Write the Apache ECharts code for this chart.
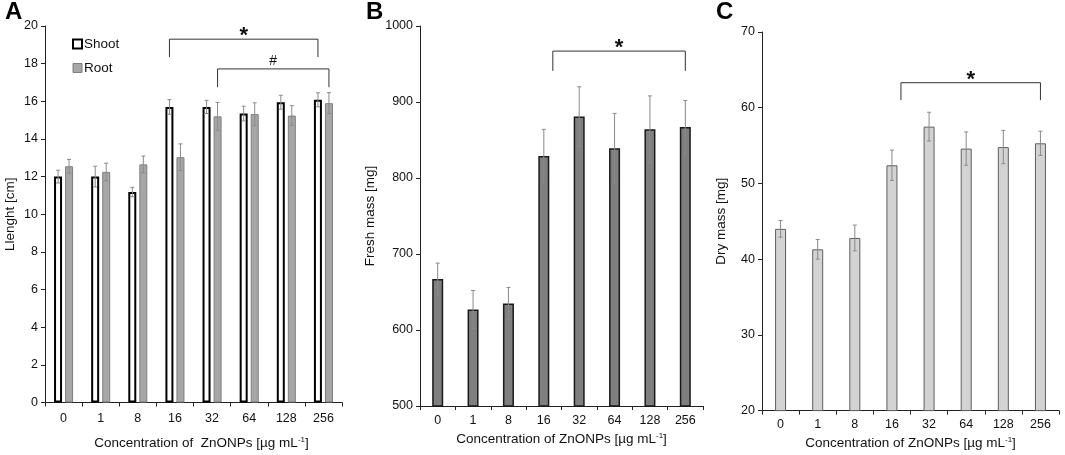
<!DOCTYPE html>
<html lang="en">
<head>
<meta charset="UTF-8" />
<title>ZnONPs</title>
<script src="https://cdn.jsdelivr.net/npm/echarts@6/dist/echarts.min.js"></script>
<style>
  body{margin:0;padding:0;background:#fff;}
  #chart{width:1065px;height:455px;}
</style>
</head>
<body>
<div id="chart"></div>
<script>
// data
var categories = ['0', '1', '8', '16', '32', '64', '128', '256'];
var shootLen = [12.0, 12.0, 11.18, 15.7, 15.7, 15.35, 15.95, 16.08];
var shootErr = [0.34, 0.55, 0.25, 0.39, 0.35, 0.39, 0.37, 0.37];
var rootLen = [12.55, 12.25, 12.65, 13.03, 15.2, 15.32, 15.24, 15.9];
var rootErr = [0.36, 0.46, 0.44, 0.71, 0.74, 0.6, 0.53, 0.56];
var freshMass = [667, 627, 635, 829, 881, 839, 864, 867];
var freshErr = [21, 25, 21, 35, 39, 46, 44, 35];
var dryMass = [44.0, 41.3, 42.8, 52.4, 57.5, 54.6, 54.8, 55.3];
var dryErr = [1.1, 1.3, 1.7, 2.0, 1.9, 2.2, 2.2, 1.6];
// brackets: [from category, to category, line value, end value]
var bracketStarA = [[3, 7, 19.3, 18.35]];
var bracketHashA = [[4, 7, 17.72, 16.75]];
var bracketsB = [[3, 7, 967, 941]];
var bracketsC = [[3, 7, 63.3, 61.0]];

var FONT = 'Liberation Sans, Arial, sans-serif';
var chart = echarts.init(document.getElementById('chart'));

function xAx(grid, margin, gap, name, shift) {
  return {
    type: 'category', gridIndex: grid, data: categories,
    name: name, nameLocation: 'middle', nameGap: gap,
    nameTextStyle: {fontFamily: FONT, fontSize: 13.5, color: '#111', padding: [0, 0, 0, shift || 0],
      rich: {sup: {fontFamily: FONT, fontSize: 8, color: '#111', verticalAlign: 'top', padding: [0, 0, 7, 0]}}},
    axisLine: {lineStyle: {color: '#222', width: 1}},
    axisTick: {show: true, length: 4, lineStyle: {color: '#222'}},
    axisLabel: {fontFamily: FONT, fontSize: 12.5, color: '#111', margin: margin}
  };
}
function yAx(grid, min, max, step, name, gap) {
  return {
    type: 'value', gridIndex: grid, min: min, max: max, interval: step,
    name: name, nameLocation: 'middle', nameGap: gap,
    nameTextStyle: {fontFamily: FONT, fontSize: 13.5, color: '#111'},
    axisLine: {show: true, lineStyle: {color: '#222', width: 1}},
    axisTick: {show: true, length: 4, lineStyle: {color: '#222'}},
    axisLabel: {fontFamily: FONT, fontSize: 12.5, color: '#111', margin: 7,
      formatter: function (v) { return String(v); }},
    splitLine: {show: false}
  };
}

function errSeries(idx, vals, errs, offset) {
  return {
    type: 'custom', xAxisIndex: idx, yAxisIndex: idx, z: 10, silent: true,
    data: vals.map(function (v, i) { return [i, v, errs[i]]; }),
    renderItem: function (params, api) {
      var hi = api.coord([api.value(0), api.value(1) + api.value(2)]);
      var lo = api.coord([api.value(0), api.value(1) - api.value(2)]);
      var x = hi[0] + offset;
      var st = {stroke: '#8a8a8a', lineWidth: 1};
      return {type: 'group', children: [
        {type: 'line', shape: {x1: x, y1: hi[1], x2: x, y2: lo[1]}, style: st},
        {type: 'line', shape: {x1: x - 2, y1: hi[1], x2: x + 2, y2: hi[1]}, style: st},
        {type: 'line', shape: {x1: x - 2, y1: lo[1], x2: x + 2, y2: lo[1]}, style: st}
      ]};
    }
  };
}

function bracketSeries(idx, list, label, off0, off1) {
  return {
    type: 'custom', xAxisIndex: idx, yAxisIndex: idx, z: 10, silent: true,
    data: list,
    renderItem: function (params, api) {
      var a = api.coord([api.value(0), api.value(2)]);
      var b = api.coord([api.value(1), api.value(2)]);
      var e = api.coord([api.value(1), api.value(3)]);
      var x0 = a[0] + off0, x1 = b[0] + off1, y = a[1], y2 = e[1];
      var st = {stroke: '#333', lineWidth: 1, fill: null};
      var star = label === '*';
      return {type: 'group', children: [
        {type: 'polyline', shape: {points: [[x0, y2], [x0, y], [x1, y], [x1, y2]]}, style: st},
        {type: 'text', x: (x0 + x1) / 2, y: star ? y + 8 : y - 1, style: {
          text: label, fontFamily: FONT, fontSize: star ? 22 : 14,
          fontWeight: star ? 'bold' : 'normal',
          fill: '#111', align: 'center', verticalAlign: 'bottom'}}
      ]};
    }
  };
}

var concName = 'Concentration of ZnONPs [µg mL{sup|-1}]';
var letterStyle = {fontFamily: FONT, fontSize: 24, fontWeight: 'bold', color: '#000'};

var option = {
  animation: false,
  title: [
    {text: 'A', left: 5, top: 0, padding: 0, textStyle: letterStyle},
    {text: 'B', left: 366, top: 0, padding: 0, textStyle: letterStyle},
    {text: 'C', left: 716, top: 0, padding: 0, textStyle: letterStyle}
  ],
  legend: {
    orient: 'vertical', left: 72, top: 37, padding: 0,
    itemWidth: 9, itemHeight: 9, itemGap: 10,
    textStyle: {fontFamily: FONT, fontSize: 13.5, color: '#111', padding: [0, 0, 0, -3]},
    data: [
      {name: 'Shoot', icon: 'rect', itemStyle: {color: '#fff', borderColor: '#000', borderWidth: 2}},
      {name: 'Root', icon: 'rect', itemStyle: {color: '#a6a6a6', borderColor: '#7f7f7f', borderWidth: 1}}
    ]
  },
  grid: [
    {left: 45, top: 26, width: 297, height: 377},
    {left: 420, top: 26, width: 283, height: 380},
    {left: 762, top: 32, width: 297, height: 380}
  ],
  xAxis: [
    xAx(0, 10, 33, 'Concentration of  ZnONPs [µg mL{sup|-1}]', 16),
    xAx(1, 8, 24, concName),
    xAx(2, 7, 23, concName)
  ],
  yAxis: [
    yAx(0, 0, 20, 2, 'Llenght [cm]', 28),
    yAx(1, 500, 1000, 100, 'Fresh mass [mg]', 43),
    yAx(2, 20, 70, 10, 'Dry mass [mg]', 34)
  ],
  series: [
    {name: 'Shoot', type: 'bar', xAxisIndex: 0, yAxisIndex: 0, data: shootLen,
      barWidth: 8, barGap: '38%',
      itemStyle: {color: '#fff', borderColor: '#000', borderWidth: 2}},
    {name: 'Root', type: 'bar', xAxisIndex: 0, yAxisIndex: 0, data: rootLen,
      barWidth: 8, barGap: '38%',
      itemStyle: {color: '#a6a6a6', borderColor: '#7f7f7f', borderWidth: 1}},
    {name: 'Fresh', type: 'bar', xAxisIndex: 1, yAxisIndex: 1, data: freshMass,
      barWidth: 11,
      itemStyle: {color: '#7f7f7f', borderColor: '#1a1a1a', borderWidth: 1.5}},
    {name: 'Dry', type: 'bar', xAxisIndex: 2, yAxisIndex: 2, data: dryMass,
      barWidth: 11,
      itemStyle: {color: '#d3d3d3', borderColor: '#5f5f5f', borderWidth: 1}},
    errSeries(0, shootLen, shootErr, -5.5),
    errSeries(0, rootLen, rootErr, 5.5),
    errSeries(1, freshMass, freshErr, 0),
    errSeries(2, dryMass, dryErr, 0),
    bracketSeries(0, bracketStarA, '*', -5.5, -5.5),
    bracketSeries(0, bracketHashA, '#', 5.5, 5.5),
    bracketSeries(1, bracketsB, '*', 9, 0),
    bracketSeries(2, bracketsC, '*', 9, 0)
  ]
};
chart.setOption(option);
</script>
</body>
</html>
